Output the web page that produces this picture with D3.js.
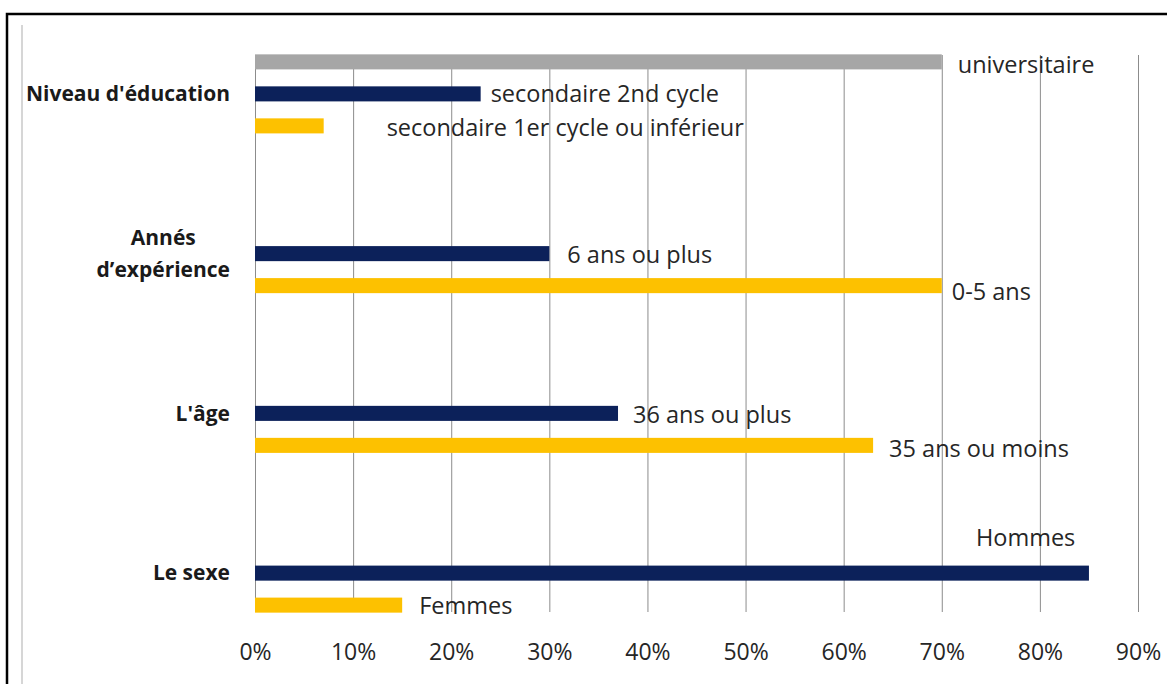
<!DOCTYPE html>
<html>
<head>
<meta charset="utf-8">
<script src="https://cdn.jsdelivr.net/npm/d3@7"></script>
<style>
  body { margin: 0; background: #fff; }
  text { font-family: "Open Sans", "Noto Sans", sans-serif; }
</style>
</head>
<body>
<div id="viz-container"></div>
<script>
// data (percent)
let categories = ["Niveau d'éducation", "Annés\nd’expérience", "L'âge", "Le sexe"];
let grayValues = [70, null, null, null];
let navyValues = [23, 30, 37, 85];
let yellowValues = [7, 70, 63, 15];
let grayLabels = ["universitaire", "", "", ""];
let navyLabels = ["secondaire 2nd cycle", "6 ans ou plus", "36 ans ou plus", "Hommes"];
let yellowLabels = ["secondaire 1er cycle ou inférieur", "0-5 ans", "35 ans ou moins", "Femmes"];
let ticks = [0, 10, 20, 30, 40, 50, 60, 70, 80, 90];

// where the labels were dragged to in the original (offset from bar end)
let labelShift = {
  gray:   [[16, 3], [0, 0], [0, 0], [0, 0]],
  navy:   [[10, 0], [18, 1], [15, 1], [-113, -35]],
  yellow: [[63, 2], [10, 6], [16, 3], [17, 1]]
};

let colors = { gray: "#a6a6a6", navy: "#0c215a", yellow: "#fdc100" };

let viz = d3.select("#viz-container")
  .append("svg")
  .attr("width", 1167)
  .attr("height", 684);

// frame
viz.append("rect")
  .attr("x", 7).attr("y", 14)
  .attr("width", 1200).attr("height", 700)
  .attr("fill", "none").attr("stroke", "#000").attr("stroke-width", 2.5);
viz.append("line")
  .attr("x1", 22).attr("x2", 22).attr("y1", 25).attr("y2", 684)
  .attr("stroke", "#d6d6d6").attr("stroke-width", 2);

let x = d3.scaleLinear().domain([0, 90]).range([255, 1138]);
let y = d3.scaleBand().domain(categories).range([14, 653]);
let slot = d3.scaleBand().domain(["gray", "navy", "yellow"])
  .range([0, 96]).paddingInner(0.53).paddingOuter(0.265);

function slotTop(cat, key) {
  return y(cat) + y.bandwidth() / 2 - 48 + slot(key);
}

// gridlines
let grid = d3.axisBottom(x).tickValues(ticks).tickSize(-557).tickFormat(d => d + "%");
let gAxis = viz.append("g")
  .attr("transform", "translate(0,612)")
  .call(grid);
gAxis.select(".domain").remove();
gAxis.selectAll(".tick line").attr("stroke", "#8c8c8c").attr("stroke-width", 1);
gAxis.selectAll(".tick text")
  .attr("y", 32)
  .attr("font-size", 23)
  .attr("fill", "#262626");

let series = [
  { key: "gray", values: grayValues, labels: grayLabels },
  { key: "navy", values: navyValues, labels: navyLabels },
  { key: "yellow", values: yellowValues, labels: yellowLabels }
];

series.forEach(function(s) {
  let rows = categories.map((c, i) => ({ cat: c, v: s.values[i], label: s.labels[i], shift: labelShift[s.key][i] }))
    .filter(d => d.v != null);

  viz.append("g").selectAll("rect").data(rows).enter().append("rect")
    .attr("x", x(0))
    .attr("y", d => slotTop(d.cat, s.key))
    .attr("width", d => x(d.v) - x(0))
    .attr("height", slot.bandwidth())
    .attr("fill", colors[s.key]);

  viz.append("g").selectAll("text").data(rows).enter().append("text")
    .attr("x", d => x(d.v) + d.shift[0])
    .attr("y", d => slotTop(d.cat, s.key) + slot.bandwidth() / 2 + d.shift[1])
    .attr("dy", "0.35em")
    .attr("font-size", 23.5)
    .attr("fill", "#262626")
    .text(d => d.label);
});

// category labels, right edge at 230, multi-line ones centred on the longest line
categories.forEach(function(c) {
  let lines = c.split("\n");
  let cy = y(c) + y.bandwidth() / 2;
  let t = viz.append("text")
    .attr("font-size", 21)
    .attr("font-weight", "bold")
    .attr("fill", "#1a1a1a");
  lines.forEach(function(l, i) {
    t.append("tspan").text(l)
      .attr("y", cy + (i - (lines.length - 1) / 2) * 32)
      .attr("dy", "0.35em");
  });
  let widths = [];
  t.selectAll("tspan").each(function() { widths.push(this.getComputedTextLength()); });
  let w = d3.max(widths);
  t.selectAll("tspan")
    .attr("x", 230 - w / 2)
    .attr("text-anchor", "middle");
});
</script>
</body>
</html>
